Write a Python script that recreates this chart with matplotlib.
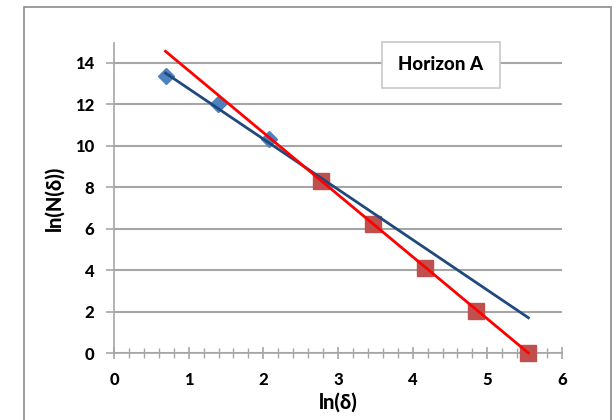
import matplotlib
matplotlib.use("Agg")
import matplotlib.pyplot as plt
from matplotlib.patches import Rectangle
from matplotlib.ticker import MultipleLocator

# data
blue_x = [0.69, 1.39, 2.08]
blue_y = [13.38, 12.03, 10.34]
red_x = [2.77, 3.47, 4.16, 4.85, 5.55]
red_y = [8.31, 6.23, 4.10, 2.03, 0.0]
blue_fit_x = [0.69, 5.55]
blue_fit_y = [13.5, 1.70]
red_fit_x = [0.69, 5.55]
red_fit_y = [14.55, 0.0]
x_ticks = [0, 1, 2, 3, 4, 5, 6]
y_ticks = [0, 2, 4, 6, 8, 10, 12, 14]
legend_text = "Horizon A"

plt.rcParams['font.family'] = ['Lato', 'DejaVu Sans']

W, H = 616, 420
fig = plt.figure(figsize=(W / 100, H / 100), dpi=100)

# outer frame
fig.patches.append(Rectangle((24 / W, -0.01), (611 - 24) / W, 1 - 7 / H + 0.01,
                             transform=fig.transFigure, fill=False,
                             edgecolor='#8c8c8c', linewidth=1.2))

left, right = 114 / W, 562 / W
bottom, top = 1 - 353 / H, 1 - 43 / H
ax = fig.add_axes([left, bottom, right - left, top - bottom])
ax.set_xlim(0, 6)
ax.set_ylim(0, 14.95)

grid_c = '#a6a6a6'
for s in ['top', 'right']:
    ax.spines[s].set_visible(False)
for s in ['left', 'bottom']:
    ax.spines[s].set_color(grid_c)
    ax.spines[s].set_linewidth(1.2)

ax.set_yticks(y_ticks)
ax.set_xticks(x_ticks)
ax.xaxis.set_minor_locator(MultipleLocator(0.2))
ax.yaxis.grid(True, color=grid_c, linewidth=1.5)
ax.set_axisbelow(True)
ax.tick_params(axis='y', direction='out', length=6, width=1.2, color=grid_c,
               labelsize=12, pad=8)
ax.tick_params(axis='x', which='major', direction='inout', length=9, width=1.2,
               color=grid_c, labelsize=12, pad=9)
ax.tick_params(axis='x', which='minor', direction='inout', length=7, width=1.0,
               color=grid_c)
for lab in ax.get_xticklabels() + ax.get_yticklabels():
    lab.set_fontweight('black')

ax.plot(blue_x, blue_y, linestyle='none', marker='D', markersize=8,
        color='#4F81BD', zorder=3, clip_on=False)
ax.plot(red_x, red_y, linestyle='none', marker='s', markersize=11,
        color='#C0504D', zorder=3, clip_on=False)
ax.plot(blue_fit_x, blue_fit_y, color='#1F497D', linewidth=2.0, zorder=4)
ax.plot(red_fit_x, red_fit_y, color='#FF0000', linewidth=2.0, zorder=5,
        clip_on=False)

ax.set_xlabel('ln(δ)', fontsize=14.5, fontweight='black', labelpad=3)
ax.set_ylabel('ln(N(δ))', fontsize=14.5, fontweight='black', labelpad=8)

# legend-like box
fig.patches.append(Rectangle((382 / W, 1 - 88 / H), (500 - 382) / W, 46 / H,
                             transform=fig.transFigure, facecolor='white',
                             edgecolor='#c8c8c8', linewidth=1.2, zorder=5))
fig.text(441 / W, 1 - 64 / H, legend_text, fontsize=13.5, fontweight='black',
         ha='center', va='center', zorder=6)

fig.savefig('out.png', dpi=100)
